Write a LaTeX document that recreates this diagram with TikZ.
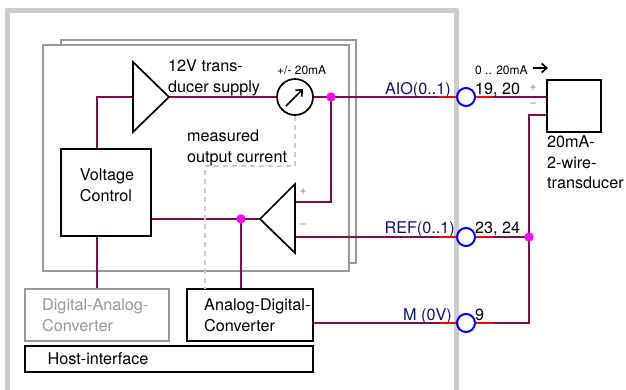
\documentclass[tikz,border=0pt]{standalone}
\usepackage{fontspec}
\setmainfont{TeX Gyre Heros}
\usetikzlibrary{calc,arrows.meta}
\definecolor{wire}{HTML}{800B4F}
\definecolor{frame}{HTML}{CCCCCC}
\definecolor{lab}{HTML}{10107F}
\definecolor{mag}{HTML}{FF00FF}
\definecolor{gbox}{HTML}{999999}
\tikzset{
  x=1pt,y=-1pt,
  blk/.style={draw=black,line width=1.7pt,fill=white,inner sep=0pt,rectangle,minimum width=#1},
  wirel/.style={draw=wire,line width=1.8pt},
  redl/.style={draw=red,line width=1.8pt},
  dotm/.style={circle,fill=mag,inner sep=0pt,minimum size=9pt},
  pin/.style={circle,draw=blue,line width=1.7pt,fill=none,inner sep=0pt,minimum size=18pt},
  txt/.style={font=\fontsize{16.2}{19}\selectfont,inner sep=0pt,anchor=base west},
  sm/.style={font=\fontsize{12}{14}\selectfont,inner sep=0pt,anchor=base west},
  sig/.style={font=\fontsize{16.2}{19}\selectfont,text=lab,inner sep=0pt,anchor=base east},
  sign/.style={font=\fontsize{12}{14}\selectfont,text=black!50,inner sep=0pt},
  dsh/.style={draw=frame,line width=1.3pt,dash pattern=on 5pt off 4pt},
  ampb/.style={draw=black,line width=1.7pt,fill=white,line join=miter},
}
\begin{document}
\begin{tikzpicture}
\useasboundingbox (0,0) rectangle (626,389);
\fill[white] (0,0) rectangle (626,389);
% outer frame
\draw[frame,line width=5pt,line join=round] (7,395) -- (7,10) -- (456.5,10) -- (456.5,395);
% stacked boards
\draw[gbox,line width=1.6pt,fill=white] (61,40) rectangle (356,263);
\draw[gbox,line width=1.6pt,fill=white] (43,45) rectangle (349,271);
% named points
\coordinate (vcIn) at (97,97);
\coordinate (ampIn) at (133,97);
\coordinate (ampOut) at (169,97);
\coordinate (inaTip) at (260,219);
\coordinate (inaP) at (295,202);
\coordinate (inaN) at (295,237);
\coordinate (corner1) at (331,202);
\coordinate (d1) at (295,166);
\coordinate (d2) at (205,166);
\coordinate (d3) at (205,289);
\coordinate (xA) at (529,115);
\coordinate (xB) at (529,323);
% boxes
\node[blk=90pt,minimum height=87pt] (vc) at (106,192.5) {};
\node[draw=gbox,line width=1.7pt,fill=white,minimum width=144pt,minimum height=52pt,inner sep=0pt] (dac) at (97,315) {};
\node[blk=126pt,minimum height=52pt] (adc) at (250,315) {};
\node[blk=288pt,minimum height=26pt] (host) at (169,359) {};
\node[blk=54pt,minimum height=52pt] (xd) at (574,106) {};
\node[circle,draw=black,line width=1.7pt,fill=white,minimum size=36pt,inner sep=0pt] (meter) at (295,97) {};
\node[dotm] (dA) at (331,97) {};
\node[dotm] (dB) at (241,219) {};
\node[dotm] (dC) at (529,237) {};
\node[pin] (pA) at (466,97) {};
\node[pin] (pR) at (466,237) {};
\node[pin] (pM) at (466,323) {};
% wires
\draw[wirel] (vc.north -| vcIn) -- (vcIn) -- (ampIn);
\draw[wirel] (ampOut) -- (meter.west);
\draw[wirel] (meter.east) -- (dA.center) -- (pA.west);
\draw[wirel] (pA.east) -- (xd.west |- pA.east);
\draw[wirel] (dA.center) -- (corner1) -- (inaP);
\draw[wirel] (vc.east |- inaTip) -- (inaTip);
\draw[wirel] (dB.center) -- (dB.center |- adc.north);
\draw[wirel] (inaN) -- (pR.west);
\draw[wirel] (pR.east) -- (dC.center);
\draw[wirel] (xd.west |- xA) -- (xA) -- (xB) -- (pM.east);
\draw[wirel] (adc.east |- pM.west) -- (pM.west);
\draw[wirel] (vc.south -| vcIn) -- (dac.north -| vcIn);
% red stubs
\foreach \p in {pA,pR,pM}{
  \draw[redl] ($(\p.west)+(-17,0)$) -- (\p.west);
  \draw[redl] (\p.east) -- ($(\p.east)+(17,0)$);
}
% amplifiers
\draw[ampb] (133,62) -- (133,132) -- (169,97) -- cycle;
\draw[ampb] (295,184) -- (295,253) -- (260,219) -- cycle;
% dashed measurement path
\draw[dsh] (295,116) -- (d1) -- (d2) -- (d3);
% redraw on top
\node[dotm] at (dA) {};
\node[dotm] at (dB) {};
\node[dotm] at (dC) {};
\node[pin] at (pA) {};
\node[pin] at (pR) {};
\node[pin] at (pM) {};
% meter arrow
\draw[black,line width=1.7pt,-{Straight Barb[length=5pt,width=9pt]}] (286,106) -- (303,89);
% texts
\node[txt] (t1) at (168,71) {12V trans-};
\node[txt] (t2) at (168,92) {ducer supply};
\node[sm] (t3) at (277,74) {+/- 20mA};
\node[txt] (t4) at (187,141) {measured};
\node[txt] (t5) at (187,162) {output current};
\node[txt,anchor=base] (t6) at (107,180) {Voltage};
\node[txt,anchor=base] (t7) at (106,201) {Control};
\node[txt,text=gbox] (t8) at (42,310) {Digital-Analog-};
\node[txt,text=gbox] (t9) at (42,331) {Converter};
\node[txt] (t10) at (204,310) {Analog-Digital-};
\node[txt] (t11) at (204,331) {Converter};
\node[txt] (t12) at (47.5,364) {Host-interface};
\node[sig] (s1) at (451,94) {AIO(0..1)};
\node[sig] (s2) at (455,233) {REF(0..1)};
\node[sig] (s3) at (452,320) {M (0V)};
\node[txt] (n1) at (475,94) {19, 20};
\node[txt] (n2) at (475,233) {23, 24};
\node[txt] (n3) at (475,320) {9};
\node[sm] (t13) at (475,74) {0 .. 20mA};
\node[sign] (pl1) at (533,88) {+};
\node[sign] (mi1) at (533,105) {−};
\node[sign] (pl2) at (303,192) {+};
\node[sign] (mi2) at (303,226) {−};
\node[txt] (t14) at (547,147) {20mA-};
\node[txt] (t15) at (547,168) {2-wire-};
\node[txt] (t16) at (547,188) {transducer};
\coordinate (arA) at (533,68);
\coordinate (arB) at (548,68);
\draw[black,line width=1.7pt,-{Straight Barb[length=5pt,width=9pt]}] (arA) -- (arB);
\end{tikzpicture}
\end{document}
